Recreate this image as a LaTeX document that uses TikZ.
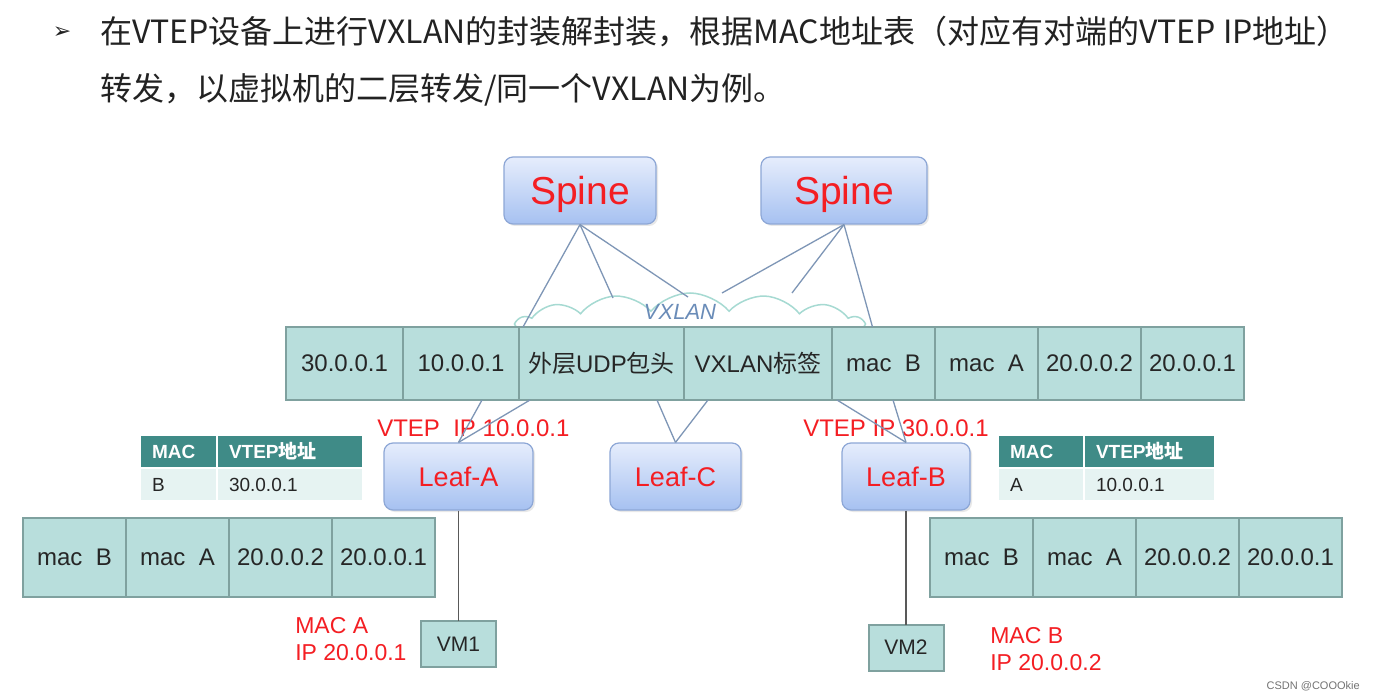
\documentclass[tikz,border=0pt]{standalone}
\usepackage{fontspec}
\setmainfont{Liberation Sans}
\newfontfamily\cjk{Noto Sans CJK SC}
\newfontfamily\symfont{DejaVu Sans}
\usepackage{tikz}
\usetikzlibrary{positioning}
\usetikzlibrary{shapes.symbols}
\usetikzlibrary{shadows}
\definecolor{cellfill}{HTML}{B8DEDC}
\definecolor{cellline}{HTML}{7FA19F}
\definecolor{boxtop}{HTML}{E6EDFC}
\definecolor{boxbot}{HTML}{A6C1F1}
\definecolor{boxline}{HTML}{8DA7D6}
\definecolor{redtxt}{HTML}{F41E23}
\definecolor{tabhead}{HTML}{3F8B87}
\definecolor{tabrow}{HTML}{E6F3F2}
\definecolor{linkline}{HTML}{7E96B6}
\definecolor{cloudline}{HTML}{A6DAD2}
\definecolor{cloudtxt}{HTML}{6A8CB8}
\definecolor{titletxt}{HTML}{222222}
\tikzset{fs/.style={font=\fontsize{#1}{#1}\selectfont}}

\begin{document}
\begin{tikzpicture}[x=1pt,y=-1pt,semithick]
\tikzstyle{device} = [rectangle, rounded corners=9pt, draw=boxline, line width=1.2pt, top color=boxtop, bottom color=boxbot, text=redtxt, drop shadow={opacity=0.18,shadow xshift=2pt,shadow yshift=-2pt}]
\tikzstyle{spine} = [device, minimum width=152pt, minimum height=67pt, fs=39]
\tikzstyle{leaf} = [device, minimum height=67pt, fs=27]
\tikzstyle{field} = [rectangle, draw=cellline, fill=cellfill, line width=2.5pt, outer sep=0pt, inner sep=0pt, fs=24, text=black!85]
\tikzstyle{tabcell} = [rectangle, minimum height=33pt, inner xsep=12pt, inner ysep=0pt, outer sep=0pt, align=left, fs=19, draw=white, line width=1.5pt, fill=tabrow, text=black!85]
\tikzstyle{tabhd} = [tabcell, fill=tabhead, text=white, font=\fontsize{19}{19}\selectfont\bfseries]
\tikzstyle{wire} = [draw=linkline, line width=1.3pt]
\tikzstyle{vmwire} = [draw=black!65, line width=1.3pt]
\tikzstyle{tag} = [text=redtxt, fs=24, inner sep=0pt, anchor=west]
\tikzstyle{hostip} = [text=redtxt, font=\fontsize{23}{27}\selectfont, inner sep=0pt, anchor=north west, align=left]

\fill[white] (0,0) rectangle (1376,700);
\useasboundingbox (0,0) rectangle (1376,700);

\node[text=titletxt, fs=22, inner sep=0pt] (bul) at (62,33) {\symfont ➢};
\node[text=titletxt, fs=32, inner sep=0pt, anchor=west] (t1) at (100,32) {\cjk 在VTEP设备上进行VXLAN的封装解封装，根据MAC地址表（对应有对端的VTEP IP地址）};
\node[text=titletxt, fs=32, inner sep=0pt, anchor=west] (t2) at (100,90) {\cjk 转发，以虚拟机的二层转发/同一个VXLAN为例。};

\node[spine, text depth=-4pt] (Sp0) at (580,190.5) {Spine};
\node[spine, text depth=-4pt, minimum width=166pt] (Sp1) at (844,190.5) {Spine};

\node[cloud, cloud puffs=14, cloud puff arc=100, cloud ignores aspect, draw=cloudline, fill=white, line width=1.5pt, minimum width=345pt, minimum height=62pt] (cld) at (690,324) {};
\node[text=cloudtxt, font=\fontsize{22}{22}\selectfont\itshape] (vxl) at (680,312) {VXLAN};

\coordinate (s0b) at (613,298);
\coordinate (s0c) at (688,297);
\coordinate (s1a) at (722,293);
\coordinate (s1b) at (792,293);

\node[field, minimum width=117pt, minimum height=73pt] (H0) at (344.5,363.5) {30.0.0.1};
\node[field, minimum width=116pt, minimum height=73pt, right=0pt of H0] (H1) {10.0.0.1};
\node[field, minimum width=165pt, minimum height=73pt, right=0pt of H1] (H2) {{\cjk 外层}UDP{\cjk 包头}};
\node[field, minimum width=148pt, minimum height=73pt, right=0pt of H2] (H3) {VXLAN{\cjk 标签}};
\node[field, minimum width=103pt, minimum height=73pt, right=0pt of H3] (H4) {mac\ \ B};
\node[field, minimum width=103pt, minimum height=73pt, right=0pt of H4] (H5) {mac\ \ A};
\node[field, minimum width=103pt, minimum height=73pt, right=0pt of H5] (H6) {20.0.0.2};
\node[field, minimum width=103pt, minimum height=73pt, right=0pt of H6] (H7) {20.0.0.1};

\draw[wire] (Sp0.south) -- ([xshift=4pt]H2.north west);
\draw[wire] (Sp0.south) -- (s0b);
\draw[wire] (Sp0.south) -- (s0c);
\draw[wire] (Sp1.south) -- (s1a);
\draw[wire] (Sp1.south) -- (s1b);
\draw[wire] (Sp1.south) -- ([xshift=-11pt]H4.north);

\node[tag] (vtA) at (377,428) {VTEP\ \ IP 10.0.0.1};
\node[tag] (vtB) at (803,428) {VTEP IP 30.0.0.1};

\node[leaf, minimum width=149pt] (LfA) at (458.5,476.5) {Leaf-A};
\node[leaf, minimum width=131pt] (LfC) at (675.5,476.5) {Leaf-C};
\node[leaf, minimum width=128pt] (LfB) at (906,476.5) {Leaf-B};

\draw[wire] ([xshift=21pt]H1.south) -- (LfA.north);
\draw[wire] ([xshift=-71.5pt]H2.south) -- (LfA.north);
\draw[wire] ([xshift=55.5pt]H2.south) -- (LfC.north);
\draw[wire] ([xshift=-50pt]H3.south) -- (LfC.north);
\draw[wire] ([xshift=-46.5pt]H4.south) -- (LfB.north);
\draw[wire] ([xshift=9.5pt]H4.south) -- (LfB.north);

\node[tabhd, text width=53pt] (TA0) at (178.5,451.5) {MAC};
\node[tabhd, text width=122pt, right=0pt of TA0] (TA1) {VTEP{\cjk 地址}};
\node[tabcell, text width=53pt, below=0pt of TA0] (TA2) {B};
\node[tabcell, text width=122pt, below=0pt of TA1] (TA3) {30.0.0.1};

\node[tabhd, text width=62pt] (TB0) at (1041,451.5) {MAC};
\node[tabhd, text width=107pt, right=0pt of TB0] (TB1) {VTEP{\cjk 地址}};
\node[tabcell, text width=62pt, below=0pt of TB0] (TB2) {A};
\node[tabcell, text width=107pt, below=0pt of TB1] (TB3) {10.0.0.1};

\node[field, minimum width=103pt, minimum height=79pt] (LA0) at (74.5,557.5) {mac\ \ B};
\node[field, minimum width=103pt, minimum height=79pt, right=0pt of LA0] (LA1) {mac\ \ A};
\node[field, minimum width=103pt, minimum height=79pt, right=0pt of LA1] (LA2) {20.0.0.2};
\node[field, minimum width=103pt, minimum height=79pt, right=0pt of LA2] (LA3) {20.0.0.1};

\node[field, minimum width=103pt, minimum height=79pt] (LB0) at (981.5,557.5) {mac\ \ B};
\node[field, minimum width=103pt, minimum height=79pt, right=0pt of LB0] (LB1) {mac\ \ A};
\node[field, minimum width=103pt, minimum height=79pt, right=0pt of LB1] (LB2) {20.0.0.2};
\node[field, minimum width=103pt, minimum height=79pt, right=0pt of LB2] (LB3) {20.0.0.1};

\node[field, line width=2pt, minimum width=75pt, minimum height=46pt, fs=21] (VM1) at (458.5,644) {VM1};
\node[field, line width=2pt, minimum width=75pt, minimum height=46pt, fs=21] (VM2) at (906,647.5) {VM2};

\draw[vmwire] (LfA.south) -- (VM1.north);
\draw[vmwire] (LfB.south) -- (VM2.north);

\node[hostip] (ipA) at (295,617) {MAC A\\IP 20.0.0.1};
\node[hostip] (ipB) at (990,627) {MAC B\\IP 20.0.0.2};

\node[text=black!55, fs=11, inner sep=0pt, anchor=east] (wm) at (1360,686) {CSDN @COOOkie};
\end{tikzpicture}
\end{document}
